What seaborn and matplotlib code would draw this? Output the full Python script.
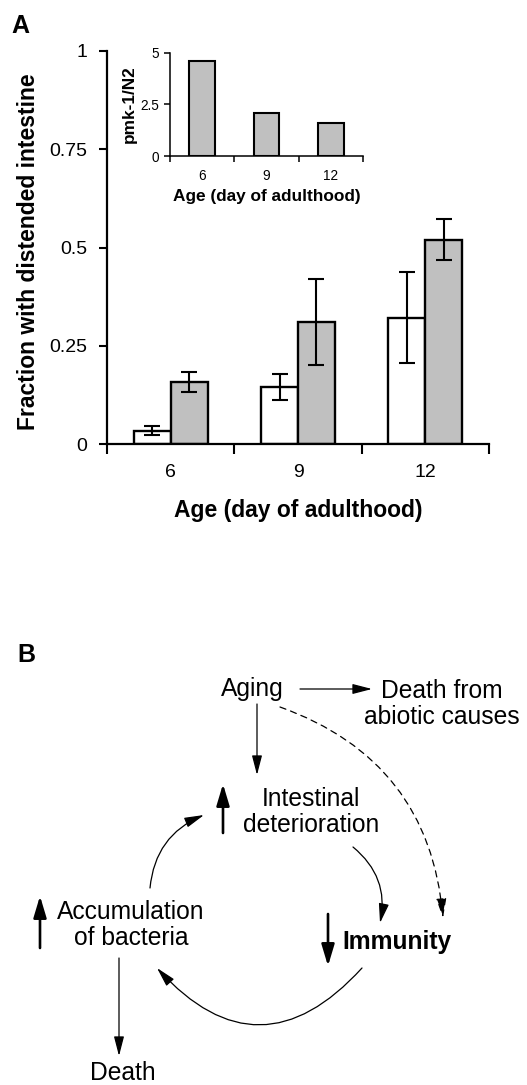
import matplotlib
matplotlib.use("Agg")
import matplotlib.pyplot as plt
import seaborn as sns
import pandas as pd

# ---------------- data ----------------
ages = ["6", "9", "12"]
n2_fraction = [0.035, 0.146, 0.322]
n2_error = [0.011, 0.033, 0.116]
pmk1_fraction = [0.159, 0.310, 0.520]
pmk1_error = [0.025, 0.109, 0.053]
ratio_pmk1_n2 = [4.6, 2.1, 1.6]
main_yticks = [0, 0.25, 0.5, 0.75, 1]
main_yticklabels = ["0", "0.25", "0.5", "0.75", "1"]
inset_yticks = [0, 2.5, 5]
inset_yticklabels = ["0", "2.5", "5"]

sns.set_style("ticks")
plt.rcParams["font.family"] = ["Liberation Sans", "DejaVu Sans"]
plt.rcParams["text.color"] = "black"
plt.rcParams["axes.labelcolor"] = "black"
plt.rcParams["xtick.color"] = "black"
plt.rcParams["ytick.color"] = "black"

W, H = 527, 1085
fig = plt.figure(figsize=(W / 100, H / 100), dpi=100)
fig.patch.set_facecolor("white")

GREY = "#c0c0c0"

def px_axes(x0, x1, ytop, ybot):
    return [x0 / W, 1 - ybot / H, (x1 - x0) / W, (ybot - ytop) / H]

# ---------------- main bar chart ----------------
ax = fig.add_axes(px_axes(107, 489, 50.7, 444.3))
df = pd.DataFrame({
    "age": ages * 2,
    "frac": n2_fraction + pmk1_fraction,
    "strain": ["N2"] * 3 + ["pmk-1"] * 3,
})
sns.barplot(data=df, x="age", y="frac", hue="strain", order=ages,
            hue_order=["N2", "pmk-1"], palette=["white", GREY],
            width=0.58, errorbar=None, edgecolor="black", linewidth=1.7,
            legend=False, ax=ax, saturation=1)
for cont, errs, vals in zip(ax.containers, [n2_error, pmk1_error],
                            [n2_fraction, pmk1_fraction]):
    xs = [b.get_x() + b.get_width() / 2 for b in cont]
    ax.errorbar(xs, vals, yerr=errs, fmt="none", ecolor="black",
                elinewidth=1.5, capsize=6, capthick=1.5, zorder=5)

ax.set_xlim(-0.5, 2.5)
ax.set_ylim(0, 1)
ax.set_yticks(main_yticks)
ax.set_yticklabels(main_yticklabels, fontsize=14)
ax.set_xticks([-0.5, 0.5, 1.5, 2.5])
ax.set_xticklabels([])
ax.set_xticks([0, 1, 2], minor=True)
ax.set_xticklabels(ages, minor=True, fontsize=14)
ax.tick_params(axis="x", which="minor", length=0, pad=14)
ax.tick_params(axis="x", which="major", length=7, width=1.5, direction="out")
ax.tick_params(axis="y", length=6, width=1.5, pad=8)
for s in ["top", "right"]:
    ax.spines[s].set_visible(False)
for s in ["left", "bottom"]:
    ax.spines[s].set_linewidth(1.6)
    ax.spines[s].set_color("black")
ax.set_xlabel("Age (day of adulthood)", fontsize=16.5, fontweight="bold")
ax.set_ylabel("Fraction with distended intestine", fontsize=16.5,
              fontweight="bold")
ax.xaxis.set_label_coords(0.5, -0.14)
ax.yaxis.set_label_coords(-0.175, 0.49)

# ---------------- inset ----------------
axi = fig.add_axes(px_axes(170, 363, 52.7, 156))
dfi = pd.DataFrame({"age": ages, "ratio": ratio_pmk1_n2})
sns.barplot(data=dfi, x="age", y="ratio", order=ages, color=GREY,
            width=0.4, errorbar=None, edgecolor="black", linewidth=1.5,
            ax=axi, saturation=1)
axi.set_xlim(-0.5, 2.5)
axi.set_ylim(0, 5)
axi.set_yticks(inset_yticks)
axi.set_yticklabels(inset_yticklabels, fontsize=9.8)
axi.set_xticks([-0.5, 0.5, 1.5, 2.5])
axi.set_xticklabels([])
axi.set_xticks([0, 1, 2], minor=True)
axi.set_xticklabels(ages, minor=True, fontsize=9.8)
axi.tick_params(axis="x", which="minor", length=0, pad=9)
axi.tick_params(axis="x", which="major", length=4, width=1.1)
axi.tick_params(axis="y", length=4, width=1.1, pad=4)
for s in ["top", "right"]:
    axi.spines[s].set_visible(False)
for s in ["left", "bottom"]:
    axi.spines[s].set_linewidth(1.1)
    axi.spines[s].set_color("black")
axi.set_xlabel("Age (day of adulthood)", fontsize=12.4, fontweight="bold")
axi.set_ylabel("pmk-1/N2", fontsize=12.4, fontweight="bold")
axi.xaxis.set_label_coords(0.5, -0.32)
axi.yaxis.set_label_coords(-0.17, 0.5)

# ---------------- panel letters ----------------
fig.text(11 / W, 1 - 33 / H, "A", fontsize=18, fontweight="bold",
         ha="left", va="baseline")
fig.text(17 / W, 1 - 662 / H, "B", fontsize=18, fontweight="bold",
         ha="left", va="baseline")

# ---------------- panel B diagram ----------------
axb = fig.add_axes([0, 0, 1, 1])
axb.set_xlim(0, W)
axb.set_ylim(H, 0)
axb.set_axis_off()

FS = 17.7
axb.text(252, 689, "Aging", fontsize=FS, ha="center", va="center")
axb.text(442, 704, "Death from\nabiotic causes", fontsize=FS,
         ha="center", va="center", linespacing=1.15)
axb.text(311, 812, "Intestinal\ndeterioration", fontsize=FS,
         ha="center", va="center", linespacing=1.15)
axb.text(131, 925, "Accumulation\nof bacteria", fontsize=FS,
         ha="center", va="center", linespacing=1.15)
axb.text(397, 942, "Immunity", fontsize=FS, fontweight="bold",
         ha="center", va="center")
axb.text(123, 1073, "Death", fontsize=FS, ha="center", va="center")

thin = dict(arrowstyle="-|>,head_length=0.85,head_width=0.22",
            mutation_scale=14, lw=0.9, color="black",
            shrinkA=0, shrinkB=0)

def arrow(p0, p1, rad=0.0, ls="-", style=thin):
    st = dict(style)
    st["connectionstyle"] = f"arc3,rad={rad}"
    st["linestyle"] = ls
    axb.annotate("", xy=p1, xytext=p0, arrowprops=st)

arrow((300, 689), (372, 689))
arrow((257, 704), (257, 775))
arrow((119, 958), (119, 1056))
arrow((150, 888), (204, 815), rad=-0.3)
arrow((353, 847), (380, 923), rad=-0.3)
arrow((362, 968), (157, 968), rad=-0.55)
arrow((280, 707), (443, 918), rad=-0.32, ls=(0, (5, 4)))

thick = dict(arrowstyle="-|>,head_length=1.0,head_width=0.3",
             mutation_scale=13, lw=1.9, color="black",
             shrinkA=0, shrinkB=0)
arrow((223, 833), (223, 784), style=thick)
arrow((40, 948), (40, 896), style=thick)
arrow((328, 914), (328, 966), style=thick)

fig.savefig("out.png", dpi=100, facecolor="white")
